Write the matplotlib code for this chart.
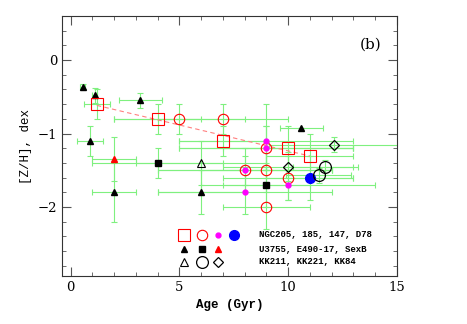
import numpy as np
import matplotlib
matplotlib.use('Agg')
import matplotlib.pyplot as plt
from matplotlib.ticker import MultipleLocator

# NGC205, 185, 147, D78 -- open squares
sq_x = [1.2, 4.0, 7.0, 10.0, 11.0]
sq_y = [-0.6, -0.8, -1.1, -1.2, -1.3]
sq_xe = [0.6, 2.0, 2.0, 3.0, 2.0]
sq_ye = [0.2, 0.2, 0.2, 0.3, 0.3]

# open circles
ci_x = [5.0, 7.0, 9.0, 8.0, 9.0, 10.0, 9.0]
ci_y = [-0.8, -0.8, -1.2, -1.5, -1.5, -1.6, -2.0]
ci_xe = [3.0, 3.0, 4.0, 4.0, 3.0, 3.0, 2.0]
ci_ye = [0.2, 0.2, 0.3, 0.2, 0.3, 0.3, 0.3]

# small magenta dots
mg_x = [9.0, 9.0, 8.0, 8.0, 10.0]
mg_y = [-1.1, -1.2, -1.5, -1.8, -1.7]
mg_xe = [4.0, 4.0, 4.0, 4.0, 4.0]
mg_ye = [0.5, 0.3, 0.3, 0.3, 0.2]

# big blue dot
bl_x = [11.0]
bl_y = [-1.6]
bl_xe = [2.0]
bl_ye = [0.3]

# U3755, E490-17, SexB -- filled triangles
tr_x = [0.55, 1.1, 3.2, 0.9, 2.0, 6.0, 10.6]
tr_y = [-0.36, -0.48, -0.55, -1.1, -1.8, -1.8, -0.93]
tr_xe = [0.1, 0.1, 1.0, 0.6, 1.0, 2.0, 1.0]
tr_ye = [0.03, 0.1, 0.1, 0.2, 0.4, 0.3, 0.0]

fs_x = [4.0, 9.0]
fs_y = [-1.4, -1.7]
fs_xe = [3.0, 2.0]
fs_ye = [0.2, 0.3]

rt_x = [2.0]
rt_y = [-1.35]
rt_xe = [1.0]
rt_ye = [0.3]

# KK211, KK221, KK84
ot_x = [6.0]
ot_y = [-1.4]
ot_xe = [3.0]
ot_ye = [0.3]

oc_x = [11.4, 11.7]
oc_y = [-1.57, -1.46]
oc_xe = [1.5, 1.5]
oc_ye = [0.1, 0.1]

od_x = [10.0, 12.1]
od_y = [-1.45, -1.15]
od_xe = [3.0, 3.0]
od_ye = [0.2, 0.1]

legend_rows = ['NGC205, 185, 147, D78', 'U3755, E490-17, SexB', 'KK211, KK221, KK84']

ecol = '#7ff07f'
fig = plt.figure(figsize=(4.67, 3.24), dpi=100)
ax = fig.add_axes([62/467, 48/324, 335/467, 260/324])

def eb(x, y, xe, ye, **kw):
    ax.errorbar(x, y, xerr=xe, yerr=ye, ls='none', ecolor=ecol, elinewidth=0.8,
                capsize=2.5, capthick=0.8, zorder=1)
    ax.plot(x, y, ls='none', zorder=3, **kw)

eb(tr_x, tr_y, tr_xe, tr_ye, marker='^', ms=4.5, color='k')
eb(fs_x, fs_y, fs_xe, fs_ye, marker='s', ms=4, color='k')
eb(rt_x, rt_y, rt_xe, rt_ye, marker='^', ms=5, color='red')
eb(ot_x, ot_y, ot_xe, ot_ye, marker='^', ms=6, mfc='none', mec='k', mew=0.8)
eb(sq_x, sq_y, sq_xe, sq_ye, marker='s', ms=8, mfc='none', mec='red', mew=0.8)
eb(ci_x, ci_y, ci_xe, ci_ye, marker='o', ms=7.5, mfc='none', mec='red', mew=0.8)
eb(mg_x, mg_y, mg_xe, mg_ye, marker='o', ms=3.5, color='magenta')
eb(bl_x, bl_y, bl_xe, bl_ye, marker='o', ms=7, color='blue')
eb(oc_x, oc_y, oc_xe, oc_ye, marker='o', ms=8.5, mfc='none', mec='k', mew=0.9)
eb(od_x, od_y, od_xe, od_ye, marker='D', ms=5.5, mfc='none', mec='k', mew=0.9)

# linear fit through the squares
p = np.polyfit(sq_x, sq_y, 1)
xx = np.array([min(sq_x), max(sq_x)])
ax.plot(xx, np.polyval(p, xx), ls=(0, (4, 3)), color='#ff8080', lw=0.8, zorder=2)

# hand-made legend
mx = [0.364, 0.417, 0.467, 0.513]
my = [0.158, 0.103, 0.055]
k = dict(transform=ax.transAxes, ls='none', clip_on=False)
ax.plot(mx[0], my[0], marker='s', ms=8, mfc='none', mec='red', mew=0.8, **k)
ax.plot(mx[1], my[0], marker='o', ms=7.5, mfc='none', mec='red', mew=0.8, **k)
ax.plot(mx[2], my[0], marker='o', ms=3.5, color='magenta', **k)
ax.plot(mx[3], my[0], marker='o', ms=7, color='blue', **k)
ax.plot(mx[0], my[1], marker='^', ms=4.5, color='k', **k)
ax.plot(mx[1], my[1], marker='s', ms=4, color='k', **k)
ax.plot(mx[2], my[1], marker='^', ms=5, color='red', **k)
ax.plot(mx[0], my[2], marker='^', ms=6, mfc='none', mec='k', mew=0.8, **k)
ax.plot(mx[1], my[2], marker='o', ms=8.5, mfc='none', mec='k', mew=0.9, **k)
ax.plot(mx[2], my[2], marker='D', ms=5.5, mfc='none', mec='k', mew=0.9, **k)
for yy, t in zip(my, legend_rows):
    ax.text(0.588, yy, t, transform=ax.transAxes, va='center', ha='left',
            family='Liberation Mono', fontweight='bold', fontsize=6.5)

ax.text(0.92, 0.89, '(b)', transform=ax.transAxes, ha='center', va='center',
        family='DejaVu Serif', fontsize=11)

ax.set_xlim(-0.4, 15)
ax.set_ylim(-2.94, 0.6)
ax.xaxis.set_major_locator(MultipleLocator(5))
ax.xaxis.set_minor_locator(MultipleLocator(1))
ax.yaxis.set_major_locator(MultipleLocator(1))
ax.yaxis.set_minor_locator(MultipleLocator(0.2))
ax.tick_params(which='both', direction='in', top=True, right=True, color='#555555')
ax.tick_params(which='major', length=6.5, width=0.8)
ax.tick_params(which='minor', length=3, width=0.6)
for t in ax.get_xticklabels() + ax.get_yticklabels():
    t.set_family('DejaVu Serif')
    t.set_fontsize(9.5)
for s in ax.spines.values():
    s.set_color('#333333')
    s.set_linewidth(0.8)
ax.set_xlabel('Age (Gyr)', family='Liberation Mono', fontsize=9, fontweight='bold')
ax.set_ylabel('[Z/H], dex', family='Liberation Mono', fontsize=9)

plt.savefig('out.png', dpi=100)
